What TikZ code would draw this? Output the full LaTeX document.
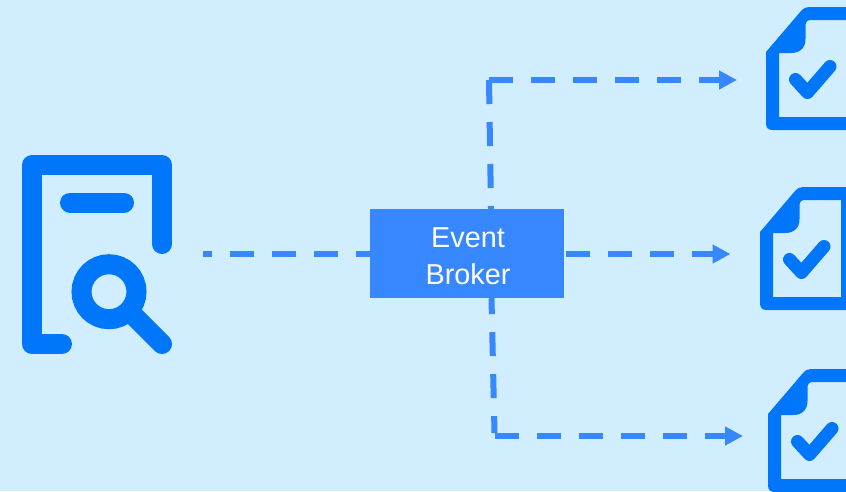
\documentclass[tikz,border=0pt]{standalone}
\usepackage{fontspec}
\setmainfont{Liberation Sans}
\usetikzlibrary{arrows.meta}
\definecolor{bgblue}{RGB}{208,238,255}
\definecolor{iconblue}{RGB}{0,119,250}
\definecolor{linkblue}{RGB}{55,135,255}
\tikzset{
  iconstroke/.style={draw=iconblue,line width=20pt,line cap=round,line join=round},
  linkline/.style={draw=linkblue,line width=6pt,dash pattern=on 24pt off 18pt},
  linkarrow/.style={linkline,-{Triangle[length=18pt,width=18pt,fill=linkblue]}},
  brokerbox/.style={fill=linkblue,text=white,minimum width=194pt,minimum height=89pt,inner sep=0pt,align=center,font=\fontsize{28.8}{37}\selectfont}
}
\newcommand{\docicon}[2]{%
  \begin{scope}[shift={(#1,#2)}]
    \fill[iconblue,even odd rule]
      (760,232) -- (795,191) .. controls (798,188) and (800,187) .. (803,187)
      -- (856,187) -- (856,310) -- (767,310) .. controls (762,310) and (760,308) .. (760,303) -- cycle
      (773,233) -- (785,233) .. controls (794,233) and (799.5,228) .. (799.5,219)
      -- (799.5,206) .. controls (799.5,202) and (801,200) .. (805,200)
      -- (841,200) -- (841,297) -- (773,297) -- cycle;
    \draw[iconblue,line width=13pt,line cap=round,line join=round]
      (789.5,259.5) -- (801.5,272.5) -- (824,246.5);
  \end{scope}}
\begin{document}
\begin{tikzpicture}[x=1pt,y=-1pt]
  \useasboundingbox (0,0) rectangle (846,491);
  \clip (0,0) rectangle (846,491);
  \fill[bgblue] (0,0) rectangle (846,491);
  % source icon
  \draw[iconstroke] (162,244) -- (162,165) -- (32,165) -- (32,344) -- (62,344);
  \draw[iconstroke] (70,202.5) -- (124,202.5);
  \draw[draw=iconblue,line width=20pt] (109,291.7) circle[radius=27.5pt];
  \draw[iconstroke] (134,316) -- (162,344);
  % target icons
  \docicon{6}{-180}
  \docicon{0}{0}
  \docicon{8}{182}
  % anchors
  \coordinate (source) at (203,254);
  \coordinate (cornertop) at (489,80);
  \coordinate (cornerbottom) at (494.5,433);
  \coordinate (elbowbottom) at (495,436);
  \coordinate (doctop) at (766,80);
  \coordinate (docmiddle) at (760,254);
  \coordinate (docbottom) at (768,436);
  \node[brokerbox] (broker) at (467,253.5) {};
  % connectors
  \draw[linkline,dash phase=15pt] (source) -- (broker.west |- source);
  \draw[linkline] (cornertop) -- ([xshift=24pt]broker.north);
  \draw[linkarrow,shorten >=29pt] (cornertop) -- (doctop);
  \draw[linkarrow,shorten <=2pt,shorten >=29.5pt] (broker.east |- docmiddle) -- (docmiddle);
  \draw[linkline,dash phase=8pt] ([xshift=24.5pt]broker.south) -- (cornerbottom);
  \draw[linkarrow,shorten >=25pt] (elbowbottom) -- (docbottom);
  \node[text=white,align=center,inner sep=0pt,font=\fontsize{28.8}{37}\selectfont] (brokerlabel) at (468,256) {Event\\Broker};
\end{tikzpicture}
\end{document}
